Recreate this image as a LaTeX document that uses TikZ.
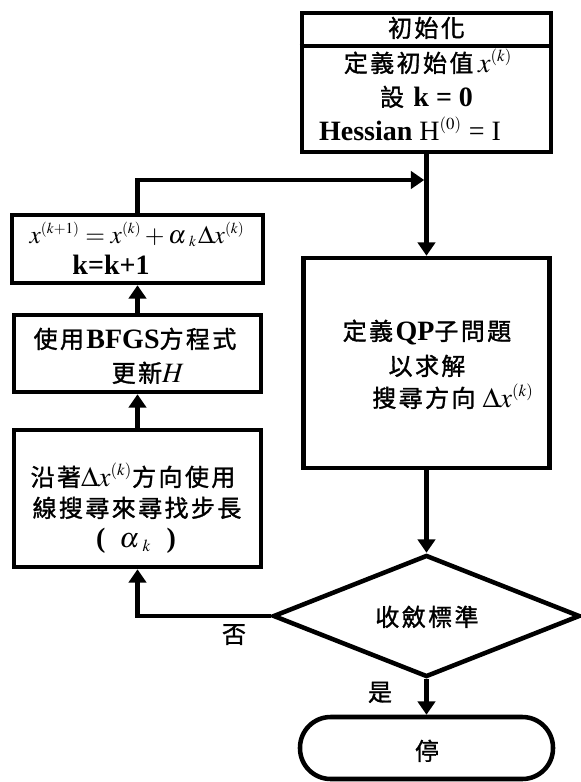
\documentclass[tikz,border=0pt]{standalone}
\usepackage{mathptmx}
\usepackage{fontspec}
\setmainfont{Liberation Serif}
\newfontfamily\cjk[LetterSpace=10,FakeBold=1.3]{Noto Sans CJK TC}
\usetikzlibrary{arrows.meta,shapes.geometric}
\newcommand\cj[1]{{\cjk\fontsize{18}{20}\selectfont #1}}
\newcommand\sx[1]{^{\scriptscriptstyle(#1)}}
\newcommand\ak{\alpha\mkern2mu{}_{\scriptscriptstyle k}\mkern1mu}
\tikzset{
  box/.style={draw, line width=3.4pt, rectangle, inner sep=0pt, fill=white},
  lbl/.style={inner sep=0pt, anchor=base, font=\fontsize{21}{24}\selectfont},
  arr/.style={line width=3.4pt, -{Triangle[length=10pt,width=13pt]}},
  ln/.style={line width=3.4pt},
}
\begin{document}
\begin{tikzpicture}[x=0.75pt,y=-0.75pt]
\useasboundingbox (0,0) rectangle (581,782);
% boxes
\node[box, minimum width=186.75pt, minimum height=104.25pt] (init) at (426.5,82.5) {};
\node[box, minimum width=184.5pt, minimum height=157.5pt] (qp) at (426.5,363) {};
\node[box, diamond, minimum width=230.25pt, minimum height=91.5pt] (conv) at (426.5,616) {};
\node[box, rounded corners=23pt, minimum width=189.75pt, minimum height=46.5pt] (stop) at (426.5,748) {};
\node[box, minimum width=188.25pt, minimum height=51pt] (upd) at (137.5,249) {};
\node[box, minimum width=185.25pt, minimum height=57.75pt] (bfgs) at (137.5,353.5) {};
\node[box, minimum width=185.25pt, minimum height=102.75pt] (ls) at (137.5,498.5) {};
% divider in init box
\coordinate (dv) at (0,46);
\draw[ln] (init.west |- dv) -- (init.east |- dv);
% connectors
\coordinate (j) at (426.5,180);
\draw[arr] (init.south) -- (qp.north);
\draw[arr, shorten >=1.7pt] (upd.north) |- (j);
\draw[arr] (qp.south) -- (conv.north);
\draw[arr] (conv.south) -- (stop.north);
\draw[arr] (conv.west) -| (ls.south);
\draw[arr] (ls.north) -- (bfgs.south);
\draw[arr] (bfgs.north) -- (upd.south);
% texts: init
\node[lbl] (t1) at (426.5,37) {\cj{初始化}};
\node[lbl] (t2) at (428,72) {\cj{定義初始值}\,$x\sx{k}$};
\node[lbl] (t3) at (426.5,106) {\cj{設} \textbf{k = 0}};
\node[lbl] (t4) at (410,140) {\textbf{Hessian} H$\sx{0}$ = I};
% update
\node[lbl, font=\fontsize{19}{22}\selectfont] (t5) at (137,243) {$x\sx{k+1} = x\sx{k} + \ak\Delta x\sx{k}$};
\node[lbl] (t6) at (111,274) {\textbf{k=k+1}};
% bfgs
\node[lbl] (t7) at (135,348) {\cj{使用}\textbf{BFGS}\cj{方程式}};
\node[lbl] (t8) at (148,382) {\cj{更新}$H$};
% line search
\node[lbl] (t9) at (133,486) {\cj{沿著}$\Delta x\sx{k}$\cj{方向使用}};
\node[lbl] (t10) at (137,517) {\cj{線搜尋來尋找步長}};
\node[lbl] (t11) at (136,547) {\textbf{(}\enspace$\ak$\enspace\textbf{)}};
% qp
\node[lbl] (t12) at (427,340) {\cj{定義}\textbf{QP}\cj{子問題}};
\node[lbl] (t13) at (427,375) {\cj{以求解}};
\node[lbl] (t14) at (453,407) {\cj{搜尋方向} $\Delta x\sx{k}$};
% decision
\node[lbl] (t15) at (427,626) {\cj{收斂標準}};
\node[lbl] (t16) at (234,643) {\cj{否}};
\node[lbl] (t17) at (380,701) {\cj{是}};
\node[lbl] (t18) at (427,760) {\cj{停}};
\end{tikzpicture}
\end{document}
